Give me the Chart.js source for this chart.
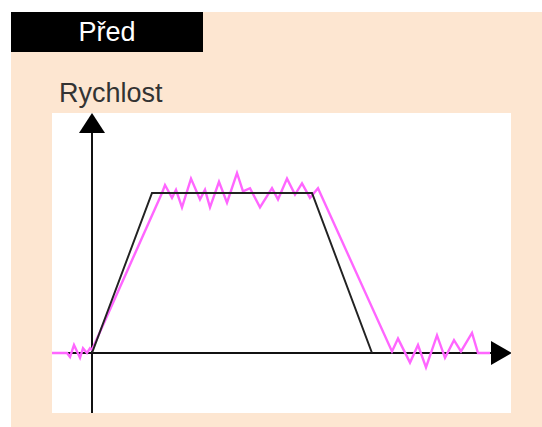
<!DOCTYPE html>
<html>
<head>
<meta charset="utf-8">
<script src="https://cdn.jsdelivr.net/npm/chart.js@4"></script>
<style>
  html, body { margin: 0; padding: 0; background: #fff; overflow: hidden; }
  body { width: 542px; height: 427px; position: relative; font-family: "Liberation Sans", Arial, sans-serif; }
  .panel { position: absolute; left: 11px; top: 12px; width: 600px; height: 500px; background: #fde6d1; }
  .tag { position: absolute; left: 11px; top: 12px; width: 192px; height: 40px; background: #000; color: #fff;
         font-size: 27px; line-height: 40px; text-align: center; }
  .lbl { position: absolute; color: #333; font-size: 27px; line-height: 27px; white-space: nowrap; }
  .plot { position: absolute; left: 52px; top: 113px; width: 459px; height: 300px; background: #fff; }
</style>
</head>
<body>
<div class="panel"></div>
<div class="tag">Před</div>
<div class="lbl" style="left:59px;top:80px;">Rychlost</div>
<div class="lbl" style="left:457px;top:380px;">Čas</div>
<div class="plot"><canvas id="c"></canvas></div>
<script>
// reference speed profile (black) - time, speed
const refTime = [0, 6, 22, 28];
const refSpeed = [0, 10, 10, 0];

const actualTime = [-4.1, -2.5, -2.2, -1.8, -1.2, -0.9, -0.5, -0.2, 0,
  7.0, 7.3, 8.0, 8.4, 9.0, 9.9, 10.8, 11.3, 11.8, 12.7, 13.5, 14.5, 15.1, 15.8,
  16.8, 18.0, 18.6, 19.5, 20.3, 21.0, 21.8, 22.6,
  30.0, 30.6, 31.8, 32.6, 33.4, 34.5, 35.3, 36.2, 36.9, 38.0, 38.6, 39.8];
const actualSpeed = [0, 0, -0.25, 0.5, -0.3, 0.3, 0, 0.3, 0.2,
  10, 10.5, 9.7, 10.2, 9.1, 10.9, 9.6, 10.2, 9.1, 10.7, 9.4, 11.25, 10.1, 10.3,
  9.1, 10.3, 9.6, 10.9, 9.9, 10.6, 9.7, 10.3,
  0.1, 0.9, -0.6, 0.5, -0.9, 1.1, -0.3, 0.8, 0.1, 1.25, 0, 0];

const toPoints = (xs, ys) => xs.map((x, i) => ({ x: x, y: ys[i] }));

// axes with arrow heads, drawn at the zero of each scale
const arrowAxes = {
  id: 'arrowAxes',
  beforeDatasetsDraw(chart) {
    const { ctx, chartArea: a, scales: { x, y } } = chart;
    const x0 = Math.round(x.getPixelForValue(0));
    const y0 = Math.round(y.getPixelForValue(0));
    ctx.save();
    ctx.strokeStyle = '#111';
    ctx.fillStyle = '#000';
    ctx.lineWidth = 2;
    ctx.beginPath();
    ctx.moveTo(x0, a.top + 15);
    ctx.lineTo(x0, a.bottom);
    ctx.moveTo(a.left, y0);
    ctx.lineTo(a.right - 15, y0);
    ctx.stroke();
    // up arrow
    ctx.beginPath();
    ctx.moveTo(x0, a.top);
    ctx.lineTo(x0 - 13, a.top + 20);
    ctx.lineTo(x0 + 13, a.top + 20);
    ctx.closePath();
    ctx.fill();
    // right arrow
    ctx.beginPath();
    ctx.moveTo(a.right + 1, y0);
    ctx.lineTo(a.right - 20, y0 - 12);
    ctx.lineTo(a.right - 20, y0 + 12);
    ctx.closePath();
    ctx.fill();
    ctx.restore();
  }
};

new Chart(document.getElementById('c'), {
  type: 'scatter',
  data: {
    datasets: [{
      label: 'Požadovaná',
      data: toPoints(refTime, refSpeed),
      showLine: true,
      borderColor: '#222',
      borderWidth: 2,
      pointRadius: 0,
      tension: 0
    }, {
      label: 'Skutečná',
      data: toPoints(actualTime, actualSpeed),
      showLine: true,
      borderColor: '#ff66ff',
      borderWidth: 2.4,
      pointRadius: 0,
      tension: 0
    }]
  },
  options: {
    responsive: true,
    maintainAspectRatio: false,
    animation: false,
    layout: { padding: 0 },
    plugins: { legend: { display: false }, tooltip: { enabled: false } },
    scales: {
      x: { type: 'linear', min: -4, max: 41.9, display: false },
      y: { type: 'linear', min: -3.75, max: 15, display: false }
    }
  },
  plugins: [arrowAxes]
});
</script>
</body>
</html>
